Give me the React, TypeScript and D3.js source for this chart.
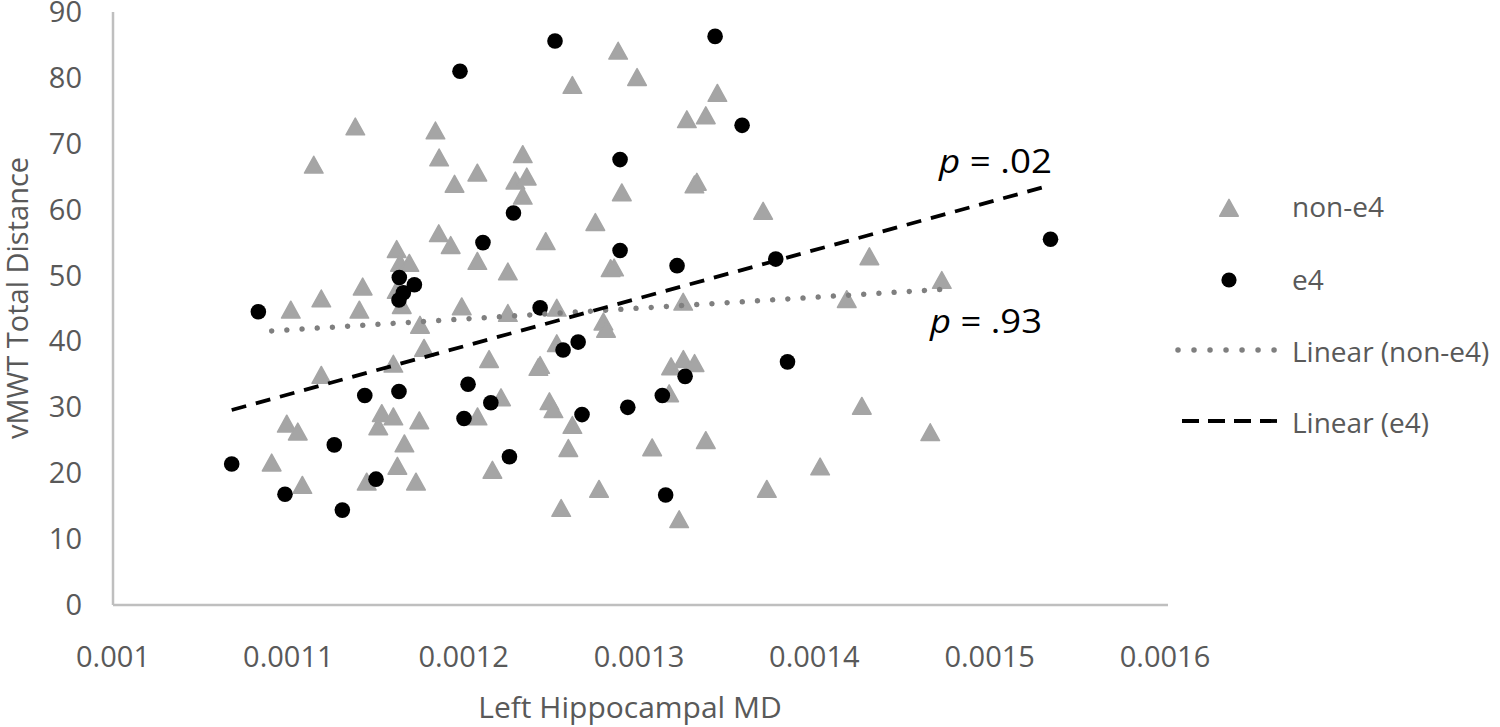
import React from "react";
import * as d3 from "d3";

// ---- data ----
const nonE4X = [
  0.0010905, 0.0010991, 0.0011054, 0.0011014, 0.001108, 0.0011145, 0.0011188, 0.0011188,
  0.0011382, 0.0011405, 0.0011424, 0.0011447, 0.0011513, 0.0011533, 0.0011599, 0.0011599,
  0.0011618, 0.0011618, 0.0011622, 0.0011637, 0.0011647, 0.0011662, 0.001169, 0.0011728,
  0.0011747, 0.0011751, 0.0011774, 0.0011839, 0.001186, 0.0011858, 0.0011926, 0.0011948,
  0.0011989, 0.0012078, 0.0012078, 0.0012079, 0.0012145, 0.0012164, 0.0012213, 0.0012252,
  0.0012252, 0.0012295, 0.0012337, 0.0012337, 0.001236, 0.0012436, 0.0012426, 0.0012468,
  0.0012489, 0.0012512, 0.0012531, 0.0012531, 0.0012556, 0.0012597, 0.001262, 0.001262,
  0.0012751, 0.0012772, 0.0012797, 0.0012812, 0.0012838, 0.0012858, 0.0012881, 0.0012902,
  0.0012989, 0.0013075, 0.0013172, 0.0013183, 0.0013229, 0.0013252, 0.0013253, 0.0013273,
  0.0013317, 0.0013316, 0.001333, 0.0013381, 0.0013381, 0.0013447, 0.0013708, 0.0013729,
  0.0014033, 0.0014185, 0.0014271, 0.0014314, 0.0014661, 0.0014727,
];
const nonE4Y = [
  21.6, 27.5, 26.3, 44.8, 18.2, 66.8, 46.5, 34.9,
  72.6, 44.8, 48.3, 18.7, 27.1, 29.1, 28.6, 36.6,
  54.0, 47.8, 21.1, 51.9, 45.5, 24.5, 51.9, 18.7,
  28.0, 42.5, 39.0, 72.0, 67.9, 56.4, 54.6, 63.9,
  45.3, 65.6, 52.2, 28.6, 37.3, 20.5, 31.5, 50.6,
  44.3, 64.4, 68.4, 62.1, 65.0, 36.4, 36.1, 55.2,
  30.9, 29.7, 45.1, 39.7, 14.7, 23.8, 78.9, 27.3,
  58.1, 17.6, 43.0, 41.9, 51.1, 51.2, 84.1, 62.6,
  80.1, 23.9, 32.1, 36.2, 13.0, 46.0, 37.3, 73.7,
  36.7, 63.8, 64.2, 25.0, 74.3, 77.7, 59.8, 17.6,
  21.0, 46.4, 30.2, 52.9, 26.2, 49.3,
];
const e4X = [
  0.0010677, 0.0010829, 0.0010981, 0.0011262, 0.0011308, 0.0011436, 0.00115, 0.0011631,
  0.0011633, 0.0011631, 0.0011656, 0.0011719, 0.0011979, 0.0012002, 0.0012025, 0.001211,
  0.0012155, 0.0012261, 0.0012284, 0.0012436, 0.0012521, 0.0012567, 0.0012653, 0.0012675,
  0.0012892, 0.0012892, 0.0012936, 0.0013133, 0.0013152, 0.0013217, 0.0013263, 0.0013434,
  0.0013588, 0.001378, 0.0013847, 0.0015347,
];
const e4Y = [
  21.4, 44.5, 16.8, 24.3, 14.4, 31.8, 19.1, 32.4,
  49.7, 46.3, 47.4, 48.6, 81.0, 28.3, 33.5, 55.0,
  30.7, 22.5, 59.5, 45.1, 85.6, 38.7, 39.9, 28.9,
  67.6, 53.8, 30.0, 31.8, 16.7, 51.5, 34.7, 86.3,
  72.8, 52.5, 36.9, 55.5,
];
// linear trend lines: [x, y] end points
const trendNonE4 = [
  [0.0010905, 41.6],
  [0.0014727, 47.9],
];
const trendE4 = [
  [0.0010677, 29.6],
  [0.0015347, 63.7],
];
const xTicks = [0.001, 0.0011, 0.0012, 0.0013, 0.0014, 0.0015, 0.0016];
const xTickLabels = ["0.001", "0.0011", "0.0012", "0.0013", "0.0014", "0.0015", "0.0016"];
const yTicks = [0, 10, 20, 30, 40, 50, 60, 70, 80, 90];
const legendLabels = ["non-e4", "e4", "Linear (non-e4)", "Linear (e4)"];

const W = 1500;
const H = 727;
const FONT = "'Open Sans', 'DejaVu Sans', sans-serif";
const TEXT = "#595959";
const GRAY = "#a5a5a5";

const x = d3.scaleLinear().domain([0.001, 0.0016]).range([113, 1165]);
const y = d3.scaleLinear().domain([0, 90]).range([605, 12]);

const triPath = "M0,-8.6 L9.3,8.2 L-9.3,8.2 Z";

export default function App() {
  const line = d3
    .line<number[]>()
    .x((d) => x(d[0]))
    .y((d) => y(d[1]));

  return (
    <svg
      width={W}
      height={H}
      style={{ position: "absolute", left: 0, top: 0, background: "#fff" }}
      fontFamily={FONT}
    >
      {/* axes */}
      <line x1={x(0.001)} x2={1168} y1={y(0)} y2={y(0)} stroke="#bfbfbf" strokeWidth={2.5} />
      <line x1={x(0.001)} x2={x(0.001)} y1={y(0)} y2={y(90)} stroke="#bfbfbf" strokeWidth={2.5} />

      {yTicks.map((t) => (
        <text
          key={"y" + t}
          x={82}
          y={y(t) + 10}
          textAnchor="end"
          fontSize={29}
          fill={TEXT}
        >
          {t}
        </text>
      ))}
      {xTicks.map((t, i) => (
        <text key={"x" + i} x={x(t)} y={667} textAnchor="middle" fontSize={29} fill={TEXT}>
          {xTickLabels[i]}
        </text>
      ))}
      <text x={630} y={718} textAnchor="middle" fontSize={30} fill={TEXT}>
        Left Hippocampal MD
      </text>
      <text
        transform="translate(28,298) rotate(-90)"
        textAnchor="middle"
        fontSize={29}
        fill={TEXT}
      >
        vMWT Total Distance
      </text>

      {/* non-e4 triangles */}
      {nonE4X.map((v, i) => (
        <path
          key={"t" + i}
          d={triPath}
          transform={`translate(${x(v)},${y(nonE4Y[i])})`}
          fill={GRAY}
          stroke={GRAY}
          strokeWidth={1.5}
          strokeLinejoin="round"
        />
      ))}
      {/* e4 circles */}
      {e4X.map((v, i) => (
        <circle key={"c" + i} cx={x(v)} cy={y(e4Y[i])} r={7.8} fill="#000" />
      ))}

      {/* trend lines */}
      <path
        d={line(trendNonE4 as number[][]) || ""}
        fill="none"
        stroke="#7f7f7f"
        strokeWidth={5.5}
        strokeLinecap="round"
        strokeDasharray="0.01 15.2"
      />
      <path
        d={line(trendE4 as number[][]) || ""}
        fill="none"
        stroke="#000"
        strokeWidth={3.8}
        strokeDasharray="15 10"
      />

      {/* annotations */}
      <text x={939} y={173} fontSize={33} fill="#000" textLength={113} lengthAdjust="spacingAndGlyphs">
        <tspan fontStyle="italic">p</tspan> = .02
      </text>
      <text x={930} y={333} fontSize={33} fill="#000" textLength={112} lengthAdjust="spacingAndGlyphs">
        <tspan fontStyle="italic">p</tspan> = .93
      </text>

      {/* legend */}
      <path
        d={triPath}
        transform="translate(1229,208)"
        fill={GRAY}
        stroke={GRAY}
        strokeWidth={1.5}
        strokeLinejoin="round"
      />
      <circle cx={1229} cy={280} r={7.6} fill="#000" />
      <line
        x1={1178}
        x2={1275}
        y1={350}
        y2={350}
        stroke="#7f7f7f"
        strokeWidth={5.5}
        strokeLinecap="round"
        strokeDasharray="0.01 16"
      />
      <line x1={1182} x2={1277} y1={421} y2={421} stroke="#000" strokeWidth={3.8} strokeDasharray="17 9" />
      {legendLabels.map((l, i) => (
        <text
          key={"l" + i}
          x={1292}
          y={[217, 290, 362, 433][i]}
          fontSize={28}
          fill={TEXT}
        >
          {l}
        </text>
      ))}
    </svg>
  );
}
